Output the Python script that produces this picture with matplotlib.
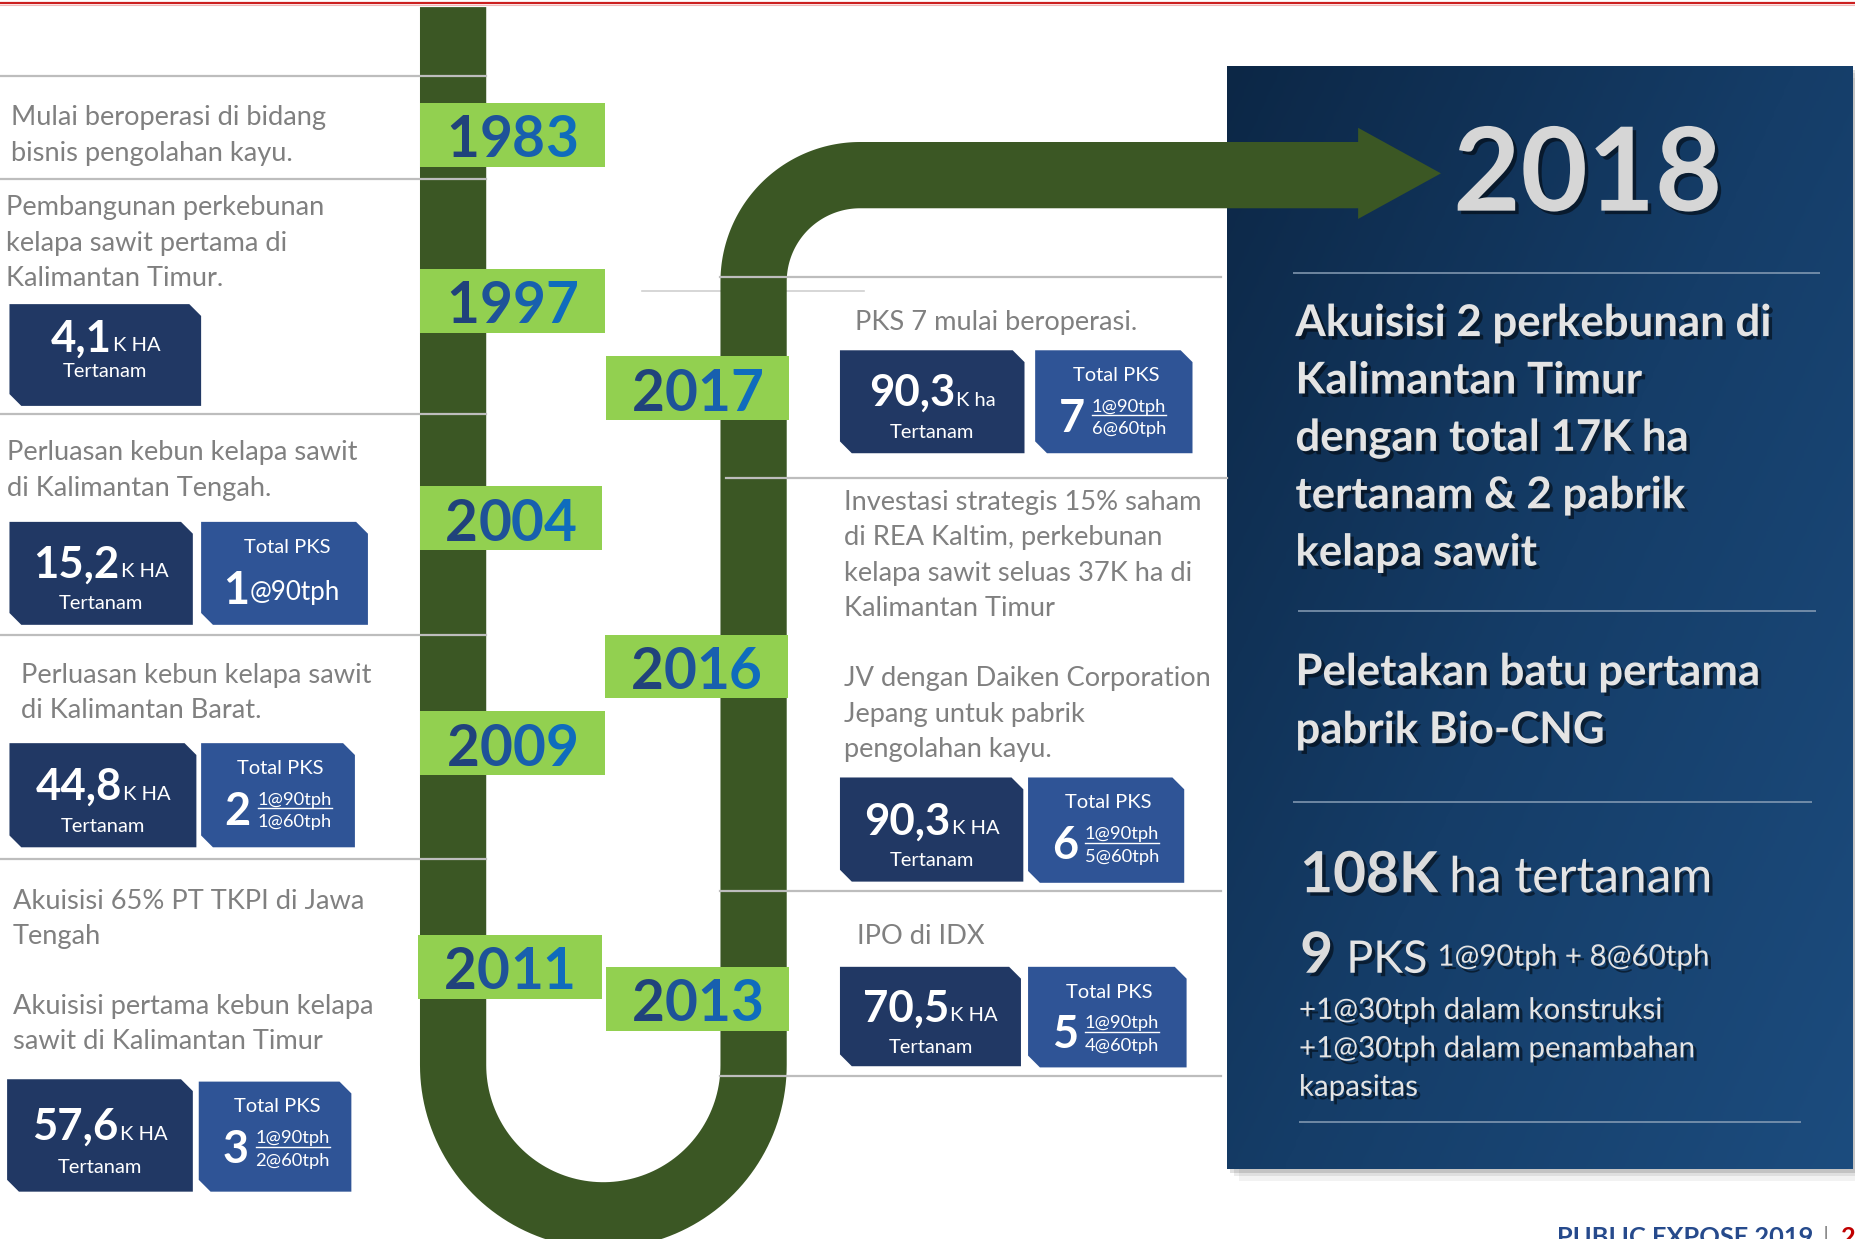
import numpy as np
import matplotlib
matplotlib.use('Agg')
import matplotlib.pyplot as plt
from matplotlib.patches import Polygon, Rectangle
from matplotlib.colors import LinearSegmentedColormap, to_hex
import matplotlib.patheffects as pe

# ---------------- data ----------------
years = ['1983', '1997', '2004', '2009', '2011', '2017', '2016', '2013']

events = [
    ['Mulai beroperasi di bidang', 'bisnis pengolahan kayu.'],
    ['Pembangunan perkebunan', 'kelapa sawit pertama di', 'Kalimantan Timur.'],
    ['Perluasan kebun kelapa sawit', 'di Kalimantan Tengah.'],
    ['Perluasan kebun kelapa sawit', 'di Kalimantan Barat.'],
    ['Akuisisi 65% PT TKPI di Jawa', 'Tengah'],
    ['Akuisisi pertama kebun kelapa', 'sawit di Kalimantan Timur'],
    ['PKS 7 mulai beroperasi.'],
    ['Investasi strategis 15% saham', 'di REA Kaltim, perkebunan',
     'kelapa sawit seluas 37K ha di', 'Kalimantan Timur'],
    ['JV dengan Daiken Corporation', 'Jepang untuk pabrik', 'pengolahan kayu.'],
    ['IPO di IDX'],
]

planted = ['4,1', '15,2', '44,8', '57,6', '90,3', '90,3', '70,5']
planted_unit = ['K HA', 'K HA', 'K HA', 'K HA', 'K ha', 'K HA', 'K HA']
planted_label = 'Tertanam'
pks_total = [None, '1', '2', '3', '7', '6', '5']
pks_90 = [None, '@90tph', '1@90tph', '1@90tph', '1@90tph', '1@90tph', '1@90tph']
pks_60 = [None, None, '1@60tph', '2@60tph', '6@60tph', '5@60tph', '4@60tph']
pks_title = 'Total PKS'

panel_year = '2018'
panel_event1 = ['Akuisisi 2 perkebunan di', 'Kalimantan Timur', 'dengan total 17K ha',
                'tertanam & 2 pabrik', 'kelapa sawit']
panel_event2 = ['Peletakan batu pertama', 'pabrik Bio-CNG']
total_ha = '108K'
total_ha_label = 'ha tertanam'
total_pks = '9'
total_pks_label = 'PKS'
total_pks_detail = '1@90tph + 8@60tph'
extra_lines = ['+1@30tph dalam konstruksi', '+1@30tph dalam penambahan', 'kapasitas']
footer = ['PUBLIC EXPOSE 2019', '|', '2']

# ---------------- layout (display units, 1568 x 1047, y down) ----------------
W, H = 1568, 1047
year_box = [(355, 511, 87, 141), (355, 511, 227, 281), (355, 509, 411, 465),
            (355, 511, 601, 655), (353, 509, 790, 844), (512, 667, 301, 355),
            (511, 666, 537, 590), (512, 667, 817, 871)]
event_pos = [(9, 99), (5, 175), (6, 382), (18, 570), (11, 761), (11, 850),
             (723, 272), (713, 424), (713, 573), (724, 791)]
ha_box = [(8, 170, 257, 343), (8, 163, 441, 528), (8, 166, 628, 716), (6, 163, 912, 1007),
          (710, 866, 296, 383), (710, 865, 657, 745), (710, 863, 817, 901)]
ha_text_y = [(284, 313), (475, 509), (663, 697), (950, 985), (330, 364), (692, 726), (850, 884)]
pks_box = [None, (170, 311, 441, 528), (170, 300, 628, 716), (168, 297, 914, 1007),
           (875, 1008, 296, 383), (869, 1001, 657, 746), (869, 1003, 817, 902)]

PT = 1855 / 1568 * 72 / 100


def fs(px):
    return px * PT


FONT = ['Lato', 'DejaVu Sans']
plt.rcParams['font.family'] = FONT

fig = plt.figure(figsize=(18.55, 12.39), dpi=100)
ax = fig.add_axes([0, 0, 1, 1])
ax.axis('off')

GREEN = '#3b5724'
LIME = '#92d050'
NAVY = '#213864'
BLUE = '#2f5496'
GREY_TXT = '#808080'
LINE = '#bdbdbd'
year_cmap = LinearSegmentedColormap.from_list('yr', ['#213a6c', '#1d5aa6', '#0a72c4'])

# ---------------- right panel ----------------
px0, px1, py0, py1 = 1037, 1566, 56, 988
for off, a in [(10, 0.05), (6, 0.08), (3, 0.12)]:
    ax.add_patch(Rectangle((px0 + off, py0 + off), px1 - px0, py1 - py0,
                           fc='black', ec='none', alpha=a, zorder=0.5))
gx, gy = np.meshgrid(np.linspace(0, 1, 300), np.linspace(0, 1, 300))
grad = 0.55 * gx + 0.45 * gy
pcmap = LinearSegmentedColormap.from_list('panel', ['#0c2746', '#153d68', '#1c4c7e'])
ax.imshow(grad, extent=(px0, px1, py1, py0), cmap=pcmap, zorder=1,
          aspect='auto', interpolation='bilinear')
for (yy, xa, xb) in [(231, 1093, 1538), (516, 1097, 1535), (678, 1093, 1532), (948, 1098, 1522)]:
    ax.plot([xa, xb], [yy, yy], color='#8ea3ba', lw=1.4, alpha=0.75, zorder=1.2,
            solid_capstyle='butt')

# ---------------- green timeline path ----------------
hw = 28


def arc(cx, cy, r, t0, t1, n=90):
    t = np.linspace(t0, t1, n)
    return list(zip(cx + r * np.cos(t), cy + r * np.sin(t)))


side1 = [(383 - hw, 6)] + arc(510, 900, 127 + hw, np.pi, 0) + \
    arc(727, 238, 90 - hw, np.pi, 1.5 * np.pi) + [(1148, 148 + hw)]
head = [(1148, 185), (1218, 146.5), (1148, 108)]
side2 = [(383 + hw, 6)] + arc(510, 900, 127 - hw, np.pi, 0) + \
    arc(727, 238, 90 + hw, np.pi, 1.5 * np.pi) + [(1148, 148 - hw)]
ax.add_patch(Polygon(side1 + head + side2[::-1], closed=True, fc=GREEN, ec='none', zorder=2))

# ---------------- separator lines ----------------
ax.plot([543, 730], [246, 246], color='#d0d0d0', lw=1.2, zorder=1.5)
for yy in [64, 151, 350, 537, 726]:
    ax.plot([0, 411], [yy, yy], color=LINE, lw=1.6, zorder=3)
for (yy, xa, xb) in [(234, 609, 1032), (404, 614, 1037), (753, 609, 1032), (909, 609, 1032)]:
    ax.plot([xa, xb], [yy, yy], color=LINE, lw=1.6, zorder=3)

# top red rule
ax.plot([0, W], [2.5, 2.5], color='#cc1f1f', lw=1.6, zorder=5)
ax.plot([0, W], [4.5, 4.5], color='#f2b8b8', lw=0.8, zorder=5)

# ---------------- year boxes (characters shaded left->right) ----------------
year_chars = []
for yr, (x0, x1, y0, y1) in zip(years, year_box):
    ax.add_patch(Rectangle((x0, y0), x1 - x0, y1 - y0, fc=LIME, ec='none', zorder=4))
    chars = []
    n = len(yr)
    for k, ch in enumerate(yr):
        col = to_hex(year_cmap((k + 0.5) / n))
        chars.append(ax.text(x0, y0 + 0.85 * (y1 - y0), ch, fontsize=fs(48), fontweight='bold',
                             color=col, ha='left', va='baseline', zorder=5))
    year_chars.append((chars, (x0 + x1) / 2))

# ---------------- event descriptions ----------------
for lines, (ex, ey) in zip(events, event_pos):
    for k, ln in enumerate(lines):
        ax.text(ex, ey + 7 + k * 29.8, ln, fontsize=fs(23), color=GREY_TXT,
                ha='left', va='baseline', zorder=5)


# ---------------- stat boxes ----------------
def clipped_box(x0, x1, y0, y1, color, c=10):
    pts = [(x0, y0), (x1 - c, y0), (x1, y0 + c), (x1, y1), (x0 + c, y1), (x0, y1 - c)]
    ax.add_patch(Polygon(pts, closed=True, fc=color, ec='none', zorder=4))


num_pairs = []
underlines = []
for i in range(len(planted)):
    x0, x1, y0, y1 = ha_box[i]
    clipped_box(x0, x1, y0, y1, NAVY)
    ny, ty = ha_text_y[i]
    t1 = ax.text(x0, ny + 13, planted[i], fontsize=fs(37), fontweight='bold', color='white',
                 ha='left', va='baseline', zorder=6)
    t2 = ax.text(x0, ny + 13, planted_unit[i], fontsize=fs(17), color='white',
                 ha='left', va='baseline', zorder=6)
    num_pairs.append((t1, t2, (x0 + x1) / 2))
    ax.text((x0 + x1) / 2, ty + 6, planted_label, fontsize=fs(17), color='white',
            ha='center', va='baseline', zorder=6)
    if pks_box[i] is None:
        continue
    bx0, bx1, by0, by1 = pks_box[i]
    clipped_box(bx0, bx1, by0, by1, BLUE)
    ax.text((bx0 + bx1) / 2 + 2, by0 + 26, pks_title, fontsize=fs(17), color='white',
            ha='center', va='baseline', zorder=6)
    if pks_60[i] is None:
        ax.text(bx0 + 30, by0 + 69, pks_total[i], fontsize=fs(38), fontweight='bold',
                color='white', ha='center', va='baseline', zorder=6)
        ax.text(bx0 + 41, by0 + 66, pks_90[i], fontsize=fs(22), color='white',
                ha='left', va='baseline', zorder=6)
    else:
        ax.text(bx0 + 31, by0 + 69, pks_total[i], fontsize=fs(38), fontweight='bold',
                color='white', ha='center', va='baseline', zorder=6)
        u = ax.text(bx0 + 48, by0 + 52, pks_90[i], fontsize=fs(15.5), color='white',
                    ha='left', va='baseline', zorder=6)
        underlines.append((u, by0 + 55))
        ax.text(bx0 + 48, by0 + 71, pks_60[i], fontsize=fs(15.5), color='white',
                ha='left', va='baseline', zorder=6)

# ---------------- panel texts ----------------
shadow = [pe.SimplePatchShadow(offset=(2.5, -2.5), shadow_rgbFace='black', alpha=0.5), pe.Normal()]
PANEL_TXT = '#e4e4e4'
ax.text(1342, 178, panel_year, fontsize=fs(98), fontweight='bold', color='#d6d6d6',
        ha='center', va='baseline', zorder=6, path_effects=shadow)
for k, ln in enumerate(panel_event1):
    ax.text(1095, 284 + k * 48.5, ln, fontsize=fs(37), fontweight='bold', color=PANEL_TXT,
            ha='left', va='baseline', zorder=6, path_effects=shadow)
for k, ln in enumerate(panel_event2):
    ax.text(1095, 579 + k * 49, ln, fontsize=fs(37), fontweight='bold', color=PANEL_TXT,
            ha='left', va='baseline', zorder=6, path_effects=shadow)
ax.text(1099, 754, total_ha, fontsize=fs(48), fontweight='bold', color='#dcdcdc',
        ha='left', va='baseline', zorder=6, path_effects=shadow)
ax.text(1225, 754, total_ha_label, fontsize=fs(42), color=PANEL_TXT,
        ha='left', va='baseline', zorder=6, path_effects=shadow)
ax.text(1099, 822, total_pks, fontsize=fs(48), fontweight='bold', color='#dcdcdc',
        ha='left', va='baseline', zorder=6, path_effects=shadow)
ax.text(1138, 822, total_pks_label, fontsize=fs(38), color=PANEL_TXT,
        ha='left', va='baseline', zorder=6, path_effects=shadow)
ax.text(1215, 816, total_pks_detail, fontsize=fs(25), color=PANEL_TXT,
        ha='left', va='baseline', zorder=6, path_effects=shadow)
for k, ln in enumerate(extra_lines):
    ax.text(1098, 861 + k * 32.5, ln, fontsize=fs(25), color=PANEL_TXT,
            ha='left', va='baseline', zorder=6, path_effects=shadow)

# ---------------- footer (partly cut by the page edge, as in the source) ----------------
ax.text(1316, 1036, footer[0], fontsize=fs(21.5), fontweight='bold', color='#264a8c',
        ha='left', va='top', zorder=6)
ax.text(1541, 1036, footer[1], fontsize=fs(21.5), color='#8c8c8c', ha='left', va='top', zorder=6)
ax.text(1556, 1036, footer[2], fontsize=fs(21.5), fontweight='bold', color='#c00000',
        ha='left', va='top', zorder=6)

ax.set_xlim(0, W)
ax.set_ylim(H, 0)

# ---------------- second pass: centre composite texts, underline ----------------
fig.canvas.draw()
r = fig.canvas.get_renderer()
inv = ax.transData.inverted()


def xspan(t):
    bb = t.get_window_extent(r)
    (a, _), (b, _) = inv.transform([(bb.x0, bb.y0), (bb.x1, bb.y1)])
    return a, b


for t1, t2, cx in num_pairs:
    a1, b1 = xspan(t1)
    a2, b2 = xspan(t2)
    w1, w2 = b1 - a1, b2 - a2
    start = cx - (w1 + w2 + 1) / 2
    t1.set_x(start)
    t2.set_x(start + w1 + 1)

for chars, cx in year_chars:
    widths = [xspan(c)[1] - xspan(c)[0] for c in chars]
    total = sum(widths)
    xx = cx - total / 2
    for c, w in zip(chars, widths):
        c.set_x(xx)
        xx += w

for u, yy in underlines:
    a, b = xspan(u)
    ax.plot([a, b], [yy, yy], color='white', lw=1.0, zorder=6)

fig.savefig('out.png', dpi=100)
